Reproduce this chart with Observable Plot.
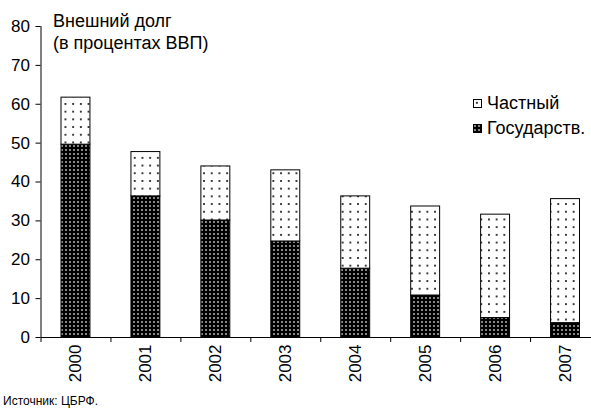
<!DOCTYPE html>
<html>
<head>
<meta charset="utf-8">
<script src="https://cdn.jsdelivr.net/npm/d3@7"></script>
<script src="https://cdn.jsdelivr.net/npm/@observablehq/plot@0.6"></script>
<style>
  html, body { margin: 0; padding: 0; background: #fff; }
  body { width: 591px; height: 412px; overflow: hidden; font-family: "Liberation Sans", Arial, sans-serif; }
  #wrap { position: relative; width: 591px; height: 412px; }
  #title { position: absolute; left: 53px; top: 10px; font-size: 18px; line-height: 22px; color: #000; }
  #legend { position: absolute; left: 473px; top: 91px; font-size: 18px; color: #000; }
  #legend .row { display: flex; align-items: center; height: 25px; }
  #legend svg { margin-right: 5px; }
  #caption { font-size: 12px; line-height: 22px; padding-left: 3px; color: #000; }
</style>
</head>
<body>
<div id="wrap">
  <div id="chart"></div>
  <div id="caption"></div>
  <div id="title"></div>
  <div id="legend"></div>
</div>
<script>
const years = [2000, 2001, 2002, 2003, 2004, 2005, 2006, 2007];
const gov = [49.6, 36.3, 30.1, 24.7, 17.7, 10.8, 5.0, 3.7];
const priv = [12.1, 11.4, 13.9, 18.3, 18.6, 22.9, 26.6, 31.9];
const yTicks = [0, 10, 20, 30, 40, 50, 60, 70, 80];
const seriesNames = ["Частный", "Государств."];
const titleLines = ["Внешний долг", "(в процентах ВВП)"];
const captionText = "Источник: ЦБРФ.";

const rows = years.map((y, i) => ({year: y, gov: gov[i], priv: priv[i], total: gov[i] + priv[i]}));
const boundaries = [...years.map(y => y - 0.5), years[years.length - 1] + 0.5];

const font = '"Liberation Sans", Arial, sans-serif';

const chart = Plot.plot({
  width: 591,
  height: 390,
  marginTop: 26,
  marginBottom: 53,
  marginLeft: 40.5,
  marginRight: 0,
  style: {fontFamily: font, fontSize: "17px", color: "#000", background: "#fff", overflow: "hidden"},
  x: {type: "linear", domain: [1999.5, 2007.5], range: [40.5, 600]},
  y: {domain: [0, 80]},
  marks: [
    Plot.rectY(rows, {x1: d => d.year - 0.5, x2: d => d.year + 0.5, y1: 0, y2: "gov",
      fill: "url(#govPat)", stroke: "#000", strokeWidth: 1, insetLeft: 20.5, insetRight: 20.5}),
    Plot.rectY(rows, {x1: d => d.year - 0.5, x2: d => d.year + 0.5, y1: "gov", y2: "total",
      fill: "url(#privPat)", stroke: "#000", strokeWidth: 1, insetLeft: 20.5, insetRight: 20.5}),
    Plot.ruleX([1999.5], {stroke: "#000"}),
    Plot.ruleY([0], {stroke: "#000"}),
    Plot.axisY({ticks: yTicks, tickSize: 5, tickPadding: 6, fontSize: 17, label: null, stroke: "#000"}),
    Plot.axisX({ticks: boundaries, tickSize: 5, tickFormat: () => "", label: null, stroke: "#000"}),
    Plot.axisX({ticks: years, tickSize: 0, tickPadding: 7, tickRotate: -90, tickFormat: d => String(d), fontSize: 17, label: null})
  ]
});

const svg = d3.select(chart);
const defs = svg.insert("defs", ":first-child");
const gp = defs.append("pattern").attr("id", "govPat").attr("patternUnits", "userSpaceOnUse")
  .attr("width", 4).attr("height", 4);
gp.append("rect").attr("width", 4).attr("height", 4).attr("fill", "#000");
gp.append("rect").attr("x", 1.2).attr("y", 1.2).attr("width", 1.6).attr("height", 1.6).attr("fill", "#d0d0d0");
const pp = defs.append("pattern").attr("id", "privPat").attr("patternUnits", "userSpaceOnUse")
  .attr("width", 7.7).attr("height", 7.7);
pp.append("rect").attr("width", 7.7).attr("height", 7.7).attr("fill", "#fff");
pp.append("rect").attr("x", 2.9).attr("y", 2.9).attr("width", 1.9).attr("height", 1.9).attr("fill", "#333");

document.getElementById("chart").appendChild(chart);
document.getElementById("caption").textContent = captionText;
document.getElementById("title").innerHTML = titleLines.map(t => `<div>${t}</div>`).join("");

const legend = document.getElementById("legend");
const legendFills = ["url(#privPat)", "url(#govPat)"];
seriesNames.forEach((name, i) => {
  const row = document.createElement("div");
  row.className = "row";
  row.innerHTML = `<svg width="9" height="9"><rect x="0.5" y="0.5" width="8" height="8" fill="${legendFills[i]}" stroke="#000"/></svg><span>${name}</span>`;
  legend.appendChild(row);
});
</script>
</body>
</html>
